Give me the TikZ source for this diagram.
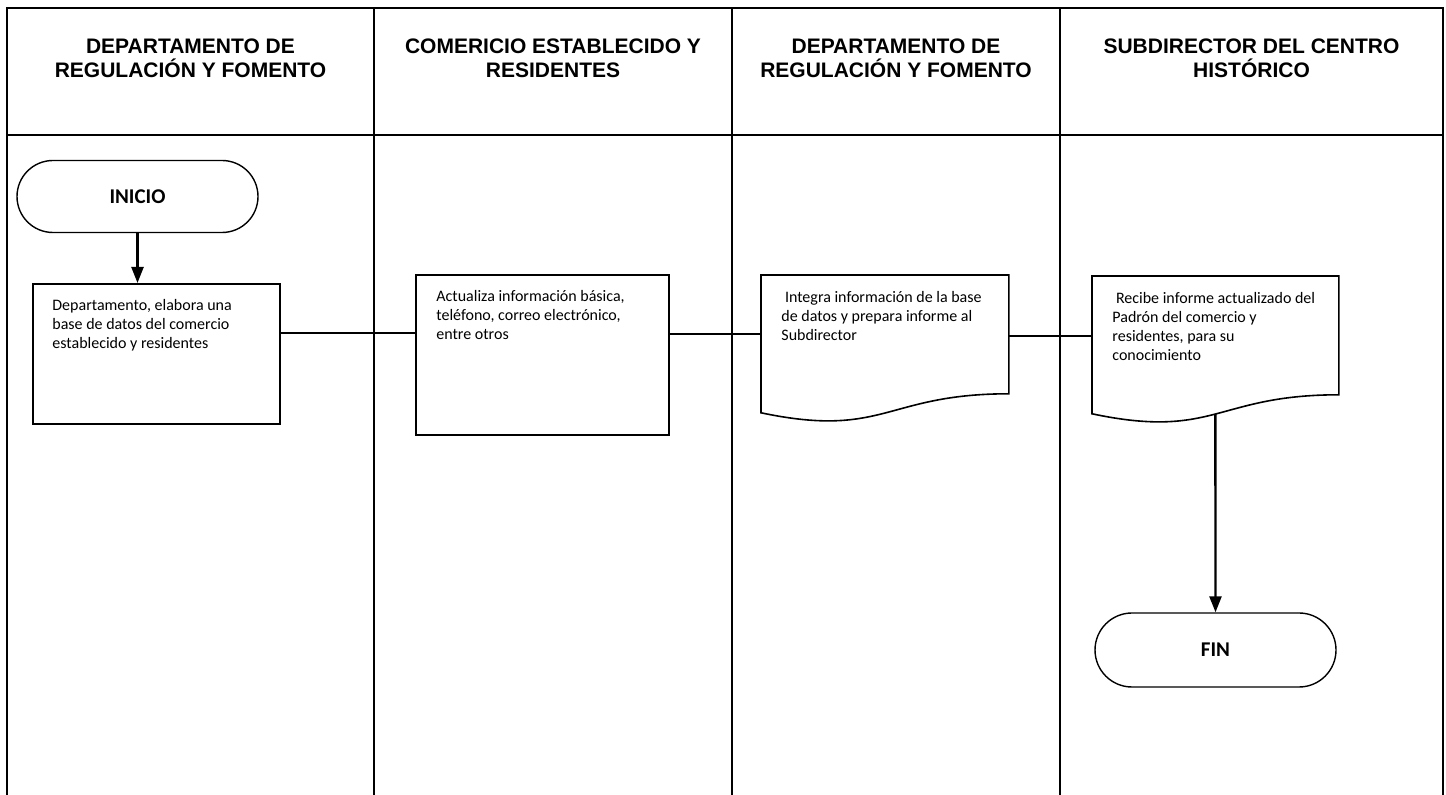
\documentclass[tikz,border=0pt]{standalone}
\usepackage{fontspec}
\setmainfont{Carlito}
\newfontfamily\arialfont{Liberation Sans}
\usepackage{tikz}
\usetikzlibrary{arrows.meta, shapes.misc, positioning}
\newcommand{\alto}{\rule{0pt}{7pt}}
\newcommand{\altotit}{\rule{0pt}{8pt}}

\begin{document}
\begin{tikzpicture}[x=0.5pt, y=-0.5pt,
  titulo/.style={font=\arialfont\bfseries\fontsize{10.5pt}{12pt}\selectfont, align=center, anchor=north, inner sep=0pt},
  terminal/.style={rounded rectangle, draw=black, line width=0.7pt, minimum width=120.5pt, minimum height=36pt, inner sep=0pt, font=\bfseries\fontsize{10.5pt}{12pt}\selectfont},
  proceso/.style={rectangle, draw=black, line width=0.8pt, anchor=north west, inner sep=0pt},
  documento/.style={rectangle, minimum width=123.5pt, minimum height=59pt, anchor=north west, inner sep=0pt},
  texto/.style={font=\fontsize{8pt}{9.5pt}\selectfont, align=left, anchor=north west, inner sep=0pt},
  flecha/.style={line width=1.2pt, -{Triangle[length=8pt, width=6pt]}},
  linea/.style={line width=0.7pt},
  marco/.style={line width=1.2pt}
]

\useasboundingbox (0,0) rectangle (1446,795);
\fill[white] (0,0) rectangle (1446,795);

% carriles
\draw[marco] (7,795) -- (7,8) -- (1443,8) -- (1443,795);
\draw[marco] (7,135) -- (1443,135);
\foreach \x in {374,732,1060}
  \draw[marco] (\x,8) -- (\x,795);

\node[titulo] (tdep) at (190.5,37) {\altotit DEPARTAMENTO DE\\REGULACIÓN Y FOMENTO};
\node[titulo] (tcom) at (553,37) {\altotit COMERICIO ESTABLECIDO Y\\RESIDENTES};
\node[titulo] (tdep2) at (896,37) {\altotit DEPARTAMENTO DE\\REGULACIÓN Y FOMENTO};
\node[titulo] (tsub) at (1251.5,37) {\altotit SUBDIRECTOR DEL CENTRO\\HISTÓRICO};

% pasos
\node[terminal] (inicio) at (137.5,196.5) {INICIO};

\node[proceso, minimum width=123.5pt, minimum height=70pt] (dep) at (32,283) {};
\node[texto] (dept) at ([shift={(20,13)}]dep.north west) {\alto Departamento, elabora una\\base de datos del comercio\\establecido y residentes};

\node[proceso, minimum width=126.5pt, minimum height=80pt] (com) at (415,274) {};
\node[texto] (comt) at ([shift={(21,13)}]com.north west) {\alto Actualiza información básica,\\teléfono, correo electrónico,\\entre otros};

\node[documento] (int) at (761,275) {};
\draw[line width=0.8pt] ([yshift=-9.5pt]int.south west) -- (int.north west) -- (int.north east) -- (int.south east)
  .. controls +(-123.5,0) and +(123.5,26) .. ([yshift=-9.5pt]int.south west) -- cycle;
\node[texto] (intt) at ([shift={(20,13)}]int.north west) {\alto ~Integra información de la base\\de datos y prepara informe al\\Subdirector};

\node[documento, minimum width=123pt] (sub) at (1092,276) {};
\draw[line width=0.8pt] ([yshift=-9.5pt]sub.south west) -- (sub.north west) -- (sub.north east) -- (sub.south east)
  .. controls +(-123,0) and +(123,26) .. ([yshift=-9.5pt]sub.south west) -- cycle;
\node[texto] (subt) at ([shift={(20,13)}]sub.north west) {\alto ~Recibe informe actualizado del\\Padrón del comercio y\\residentes, para su\\conocimiento};

\node[terminal, minimum height=37pt] (fin) at (1215.5,650) {FIN};

% conectores
\draw[flecha] (inicio.south) -- (inicio.south |- dep.north);
\draw[linea] ([yshift=-25pt]dep.north east) -- ([yshift=-25pt]dep.north east -| com.west);
\draw[linea] ([yshift=-30pt]com.north east) -- ([yshift=-30pt]com.north east -| int.west);
\draw[linea] ([yshift=-30.5pt]int.north east) -- ([yshift=-30.5pt]int.north east -| sub.west);
\draw[flecha] ([yshift=-9.6pt]sub.south) -- (fin.north);

\end{tikzpicture}
\end{document}
